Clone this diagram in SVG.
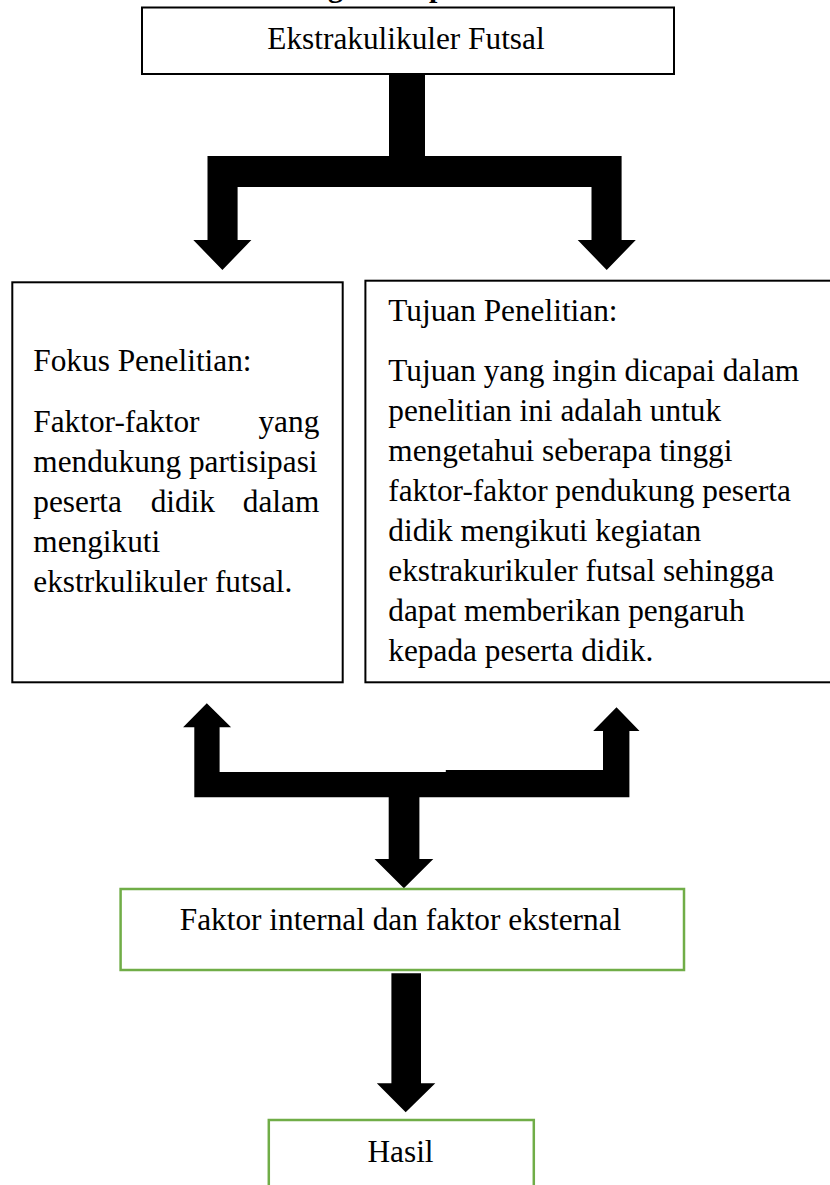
<svg xmlns="http://www.w3.org/2000/svg" width="830" height="1185" viewBox="0 0 830 1185">
<style>
.t{font-family:"Liberation Serif","Times New Roman",serif;font-size:31.3px;fill:#000}
.c{text-anchor:middle}
.e{text-anchor:end}
.box{fill:#fff;stroke:#000;stroke-width:2}
.gbox{fill:#fff;stroke:#70AD47;stroke-width:2.5}
.arr{fill:#000;stroke:none}
</style>
<rect width="830" height="1185" fill="#fff"/>
<text class="t" x="-8" y="-3" style="font-weight:bold;font-size:30px">Gambar 2.1 Skema Kerangka Berpikir</text>
<g id="connectors">
<path class="arr" d="M389,74 L425,74 L425,156 L621.6,156 L621.6,240 L635.8,240 L606.7,270 L577.7,240 L591.5,240 L591.5,187 L237.6,187 L237.6,240 L251.4,240 L222.4,270 L193.3,240 L207.5,240 L207.5,156 L389,156 Z"/>
<path class="arr" d="M194.3,797.3 L194.3,727.3 L183.1,727.3 L206.8,703.3 L231.1,727.3 L219.6,727.3 L219.6,772 L445.8,772 L445.8,770 L603,770 L603,731 L593.2,731 L616.5,707.3 L639.5,731 L629.4,731 L629.4,797.3 L419.4,797.3 L419.4,859 L433.3,859 L403.9,888.3 L374.5,859 L388.7,859 L388.7,797.3 Z"/>
<path class="arr" d="M391.4,973.3 L421,973.3 L421,1083.3 L435.3,1083.3 L405.7,1112.3 L376.8,1083.3 L391.4,1083.3 Z"/>
</g>
<g id="node-ekstrakulikuler">
<rect class="box" x="142" y="7.5" width="532" height="66.5"/>
<text class="t c" x="406" y="49">Ekstrakulikuler Futsal</text>
</g>
<g id="node-fokus">
<rect class="box" x="12.3" y="282.3" width="330.4" height="400"/>
<text class="t" x="33.3" y="370.7">Fokus Penelitian:</text>
<text class="t" x="33.3" y="431.7">Faktor-faktor</text>
<text class="t e" x="319.3" y="431.7">yang</text>
<text class="t" x="33.3" y="471.7">mendukung partisipasi</text>
<text class="t" x="33.3" y="511.7">peserta</text>
<text class="t" x="150.7" y="511.7">didik</text>
<text class="t e" x="319.3" y="511.7">dalam</text>
<text class="t" x="33.3" y="551.7">mengikuti</text>
<text class="t" x="33.3" y="591.7">ekstrkulikuler futsal.</text>
</g>
<g id="node-tujuan">
<rect class="box" x="365.4" y="280.7" width="480" height="401.6"/>
<text class="t" x="388.3" y="320.7">Tujuan Penelitian:</text>
<text class="t" x="388.3" y="380.7">Tujuan yang ingin dicapai dalam</text>
<text class="t" x="388.3" y="420.7">penelitian ini adalah untuk</text>
<text class="t" x="388.3" y="460.7">mengetahui seberapa tinggi</text>
<text class="t" x="388.3" y="500.7">faktor-faktor pendukung peserta</text>
<text class="t" x="388.3" y="540.7">didik mengikuti kegiatan</text>
<text class="t" x="388.3" y="580.7">ekstrakurikuler futsal sehingga</text>
<text class="t" x="388.3" y="620.7">dapat memberikan pengaruh</text>
<text class="t" x="388.3" y="660.7">kepada peserta didik.</text>
</g>
<g id="node-faktor">
<rect class="gbox" x="120.6" y="889" width="563.4" height="81"/>
<text class="t c" x="400.5" y="930">Faktor internal dan faktor eksternal</text>
</g>
<g id="node-hasil">
<rect class="gbox" x="268.8" y="1120" width="265" height="80"/>
<text class="t c" x="400.5" y="1161.7">Hasil</text>
</g>
</svg>
